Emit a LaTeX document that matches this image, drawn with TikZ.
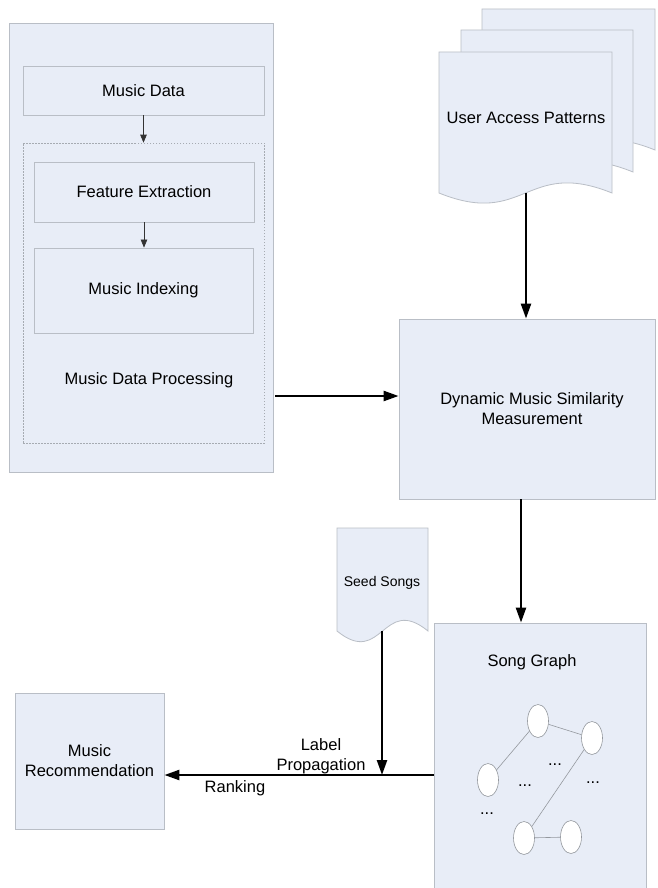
\documentclass[tikz,border=0pt]{standalone}
\usepackage{fontspec}
\setmainfont{Liberation Sans}
\usetikzlibrary{arrows.meta,shapes.geometric}
\definecolor{boxfill}{RGB}{232,237,247}
\definecolor{boxline}{RGB}{185,190,198}
\tikzset{
  box/.style={draw=boxline, fill=boxfill, line width=0.8pt, inner sep=0pt, align=center,
    font=\fontsize{16.5}{20}\selectfont},
  dashbox/.style={draw=boxline!90!black, dash pattern=on 1.5pt off 1.5pt, line width=0.6pt, inner sep=0pt},
  docstyle/.style={draw=boxline, fill=boxfill, line width=0.8pt},
  txt/.style={inner sep=0pt, align=center, font=\fontsize{16.5}{20}\selectfont},
  thickarrow/.style={line width=2.4pt, -{Triangle[length=15pt,width=10pt]}},
  thinarrow/.style={line width=0.6pt, draw=black!80, -{Triangle[length=8pt,width=6.5pt]}},
  gnode/.style={draw=boxline!80!black, fill=white, ellipse, minimum width=21pt, minimum height=33pt, inner sep=0pt, line width=0.6pt},
  gedge/.style={draw=boxline!80!black, line width=0.6pt},
  dots/.style={inner sep=0pt, font=\fontsize{16.5}{20}\selectfont},
}
\begin{document}
\begin{tikzpicture}[x=1pt,y=-1pt]
\useasboundingbox (0,0) rectangle (657,888);
\clip (0,0) rectangle (657,888);
\fill[white] (0,0) rectangle (657,888);

% left processing block
\node[box, minimum width=264pt, minimum height=449pt] (outer) at (141,247.5) {};
\node[box, minimum width=241pt, minimum height=49pt] (md) at (143.5,90.5) {Music Data};
\node[dashbox, minimum width=241pt, minimum height=300pt] (dash) at (143.5,293) {};
\node[box, minimum width=220pt, minimum height=60pt] (fe) at (144,192) {Feature Extraction};
\node[box, minimum width=219pt, minimum height=85pt] (mi) at (143.5,290.5) {Music Indexing};
\node[txt] (mdp) at (149,380) {Music Data Processing};
\draw[thinarrow] (md.south) -- (md.south |- dash.north);
\draw[thinarrow] (fe.south) -- (fe.south |- mi.north);

% user access patterns (stacked documents)
\draw[docstyle] (655,150) -- (655,9) -- (482,9) -- (482,150) .. controls (568.5,185) and (568.5,115) .. (655,150) -- cycle;
\draw[docstyle] (633,172) -- (633,30) -- (461,30) -- (461,172) .. controls (547,207) and (547,137) .. (633,172) -- cycle;
\draw[docstyle] (612,193) -- (612,52) -- (439,52) -- (439,193) .. controls (525.5,228) and (525.5,158) .. (612,193) -- cycle;
\node[txt] (uap) at (526,118) {User Access Patterns};
\coordinate (uapb) at (526,193);

% similarity measurement
\node[box, minimum width=256pt, minimum height=180pt] (dmsm) at (527,409) {};
\node[txt] (dmsmt) at (532,409) {Dynamic Music Similarity\\Measurement};

\coordinate (a1) at (275,396);
\draw[thickarrow] (a1) -- (dmsm.west |- a1);
\draw[thickarrow] (uapb) -- (uapb |- dmsm.north);

% song graph
\node[box, minimum width=212pt, minimum height=277pt] (sg) at (540,761.5) {};
\node[txt] (sgt) at (532,662) {Song Graph};
\coordinate (dmsmb) at (521,499);
\draw[thickarrow] (dmsmb) -- (dmsmb |- sg.north);

\node[gnode] (ga) at (538,721) {};
\node[gnode] (gb) at (592,738) {};
\node[gnode] (gc) at (488,780) {};
\node[gnode] (gd) at (524,838) {};
\node[gnode] (ge) at (571,837) {};
\draw[gedge] (gc) -- (ga);
\draw[gedge] (ga) -- (gb);
\draw[gedge] (gb) -- (gd);
\draw[gedge] (gd) -- (ge);
\node[dots] (d1) at (555,765) {...};
\node[dots] (d2) at (525,786) {...};
\node[dots] (d3) at (593,783) {...};
\node[dots] (d4) at (487,814) {...};

% seed songs
\draw[docstyle] (428,631) -- (428,528) -- (337,528) -- (337,631) .. controls (382.5,668) and (382.5,594) .. (428,631) -- cycle;
\node[txt, font=\fontsize{14}{17}\selectfont] (seed) at (382,583) {Seed Songs};
\coordinate (seedb) at (382,631);

% music recommendation
\node[box, minimum width=149pt, minimum height=136pt] (mr) at (89.5,761) {Music\\Recommendation};

\coordinate (junc) at (382,775);
\draw[thickarrow] (seedb) -- (junc);
\draw[thickarrow] (sg.west |- junc) -- (mr.east |- junc);
\node[txt] (lp) at (321,756) {Label\\Propagation};
\node[txt] (rk) at (235,788) {Ranking};
\end{tikzpicture}
\end{document}
